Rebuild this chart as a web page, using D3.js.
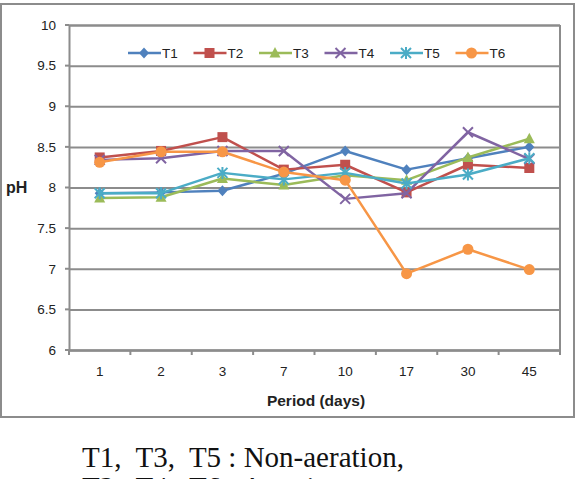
<!DOCTYPE html>
<html>
<head>
<meta charset="utf-8">
<script src="https://cdn.jsdelivr.net/npm/d3@7/dist/d3.min.js"></script>
<style>
  body { margin: 0; background: #fff; }
  svg text { font-family: "Liberation Sans", Arial, sans-serif; fill: #222; }
  .caption { font-family: "Liberation Serif", "Times New Roman", serif; fill: #111; }
</style>
</head>
<body>
<div id="chart"></div>
<script>
var days = ["1", "2", "3", "7", "10", "17", "30", "45"];
var yTicks = [6, 6.5, 7, 7.5, 8, 8.5, 9, 9.5, 10];
var names = ["T1", "T2", "T3", "T4", "T5", "T6"];
var colors = ["#4F81BD", "#C0504D", "#9BBB59", "#8064A2", "#4BACC6", "#F79646"];
var shapes = ["diamond", "square", "triangle", "x", "star", "circle"];

var t1 = [7.93, 7.94, 7.96, 8.17, 8.45, 8.22, 8.36, 8.50];
var t2 = [8.37, 8.45, 8.62, 8.22, 8.28, 7.94, 8.28, 8.24];
var t3 = [7.87, 7.88, 8.11, 8.03, 8.15, 8.09, 8.37, 8.60];
var t4 = [8.34, 8.36, 8.45, 8.45, 7.86, 7.93, 8.68, 8.35];
var t5 = [7.93, 7.93, 8.18, 8.10, 8.18, 8.05, 8.16, 8.36];
var t6 = [8.31, 8.44, 8.44, 8.19, 8.09, 6.94, 7.24, 6.99];
var series = [t1, t2, t3, t4, t5, t6];

var W = 583, H = 479;
var p = {"top": 25, "left": 69, "right": 560, "bot": 350};

var svg = d3.select("#chart").append("svg")
  .attr("width", W)
  .attr("height", H)

// outer chart frame
svg.append("rect")
  .attr("x", 1).attr("y", 4)
  .attr("width", 573).attr("height", 413)
  .attr("fill", "#fff")
  .attr("stroke", "#8c8c8c")
  .attr("stroke-width", 2)

var x = d3.scaleBand().domain(days).range([p.left, p.right]);
var y = d3.scaleLinear().domain([6, 10]).range([p.bot, p.top]);

// gridlines
svg.append("g")
  .attr("transform", "translate(" + p.left + ",0)")
  .call(d3.axisLeft(y).tickValues(yTicks).tickSize(-(p.right - p.left)).tickPadding(13).tickFormat(d3.format("")))
  .call(function(g){
    g.select(".domain").attr("stroke", "#8c8c8c").attr("stroke-width", 2);
    g.selectAll(".tick line").attr("stroke", "#8c8c8c").attr("stroke-width", 2);
    g.selectAll(".tick text").attr("font-size", 13.5).attr("fill", "#222");
  })

// small outer tick marks on y axis
svg.append("g").selectAll("line")
  .data(yTicks)
  .enter().append("line")
    .attr("x1", p.left - 4).attr("x2", p.left)
    .attr("y1", function(d){ return y(d) }).attr("y2", function(d){ return y(d) })
    .attr("stroke", "#8c8c8c").attr("stroke-width", 2)

// right border of plot area
svg.append("line")
  .attr("x1", p.right).attr("x2", p.right)
  .attr("y1", p.top).attr("y2", p.bot)
  .attr("stroke", "#8c8c8c").attr("stroke-width", 2)

// x axis
var xAxis = svg.append("g")
  .attr("transform", "translate(0," + p.bot + ")")
  .call(d3.axisBottom(x).tickSize(0).tickPadding(16))
xAxis.select(".domain").attr("stroke", "#8c8c8c").attr("stroke-width", 2);
xAxis.selectAll(".tick text").attr("font-size", 13.5).attr("fill", "#222");

var bounds = days.map(function(d){ return x(d) }).concat([p.right]);
svg.append("g").selectAll("line")
  .data(bounds)
  .enter().append("line")
    .attr("x1", function(d){ return d }).attr("x2", function(d){ return d })
    .attr("y1", p.bot).attr("y2", p.bot + 5)
    .attr("stroke", "#8c8c8c").attr("stroke-width", 2)

// axis titles
svg.append("text")
  .attr("x", 316).attr("y", 406)
  .attr("text-anchor", "middle")
  .attr("font-size", 15.5).attr("font-weight", "bold")
  .text("Period (days)")

svg.append("text")
  .attr("x", 6).attr("y", 193)
  .attr("font-size", 16).attr("font-weight", "bold")
  .text("pH")

function marker(g, shape, color){
  if (shape == "diamond") {
    g.append("path").attr("d", "M0,-5.5L5,0L0,5.5L-5,0Z").attr("fill", color);
  } else if (shape == "square") {
    g.append("rect").attr("x", -5).attr("y", -5).attr("width", 10).attr("height", 10).attr("fill", color);
  } else if (shape == "triangle") {
    g.append("path").attr("d", "M0,-6L5.5,4.5L-5.5,4.5Z").attr("fill", color);
  } else if (shape == "x") {
    g.append("path").attr("d", "M-5,-5L5,5M-5,5L5,-5").attr("stroke", color).attr("stroke-width", 2);
  } else if (shape == "star") {
    g.append("path").attr("d", "M-5,-5L5,5M-5,5L5,-5M0,-6L0,6").attr("stroke", color).attr("stroke-width", 2);
  } else {
    g.append("circle").attr("r", 5.5).attr("fill", color);
  }
}

var line = d3.line()
  .x(function(d, i){ return x(days[i]) + x.bandwidth() / 2 })
  .y(function(d){ return y(d) })

series.forEach(function(s, k){
  svg.append("path")
    .datum(s)
    .attr("d", line)
    .attr("fill", "none")
    .attr("stroke", colors[k])
    .attr("stroke-width", 2.5)
    .attr("stroke-linejoin", "round")

  s.forEach(function(v, i){
    var g = svg.append("g")
      .attr("transform", "translate(" + (x(days[i]) + x.bandwidth() / 2) + "," + y(v) + ")");
    marker(g, shapes[k], colors[k]);
  })
})

// legend
var leg = svg.append("g").attr("transform", "translate(128,53)");
names.forEach(function(n, k){
  var g = leg.append("g").attr("transform", "translate(" + (k * 65.5) + ",0)");
  g.append("line").attr("x1", 0).attr("x2", 33).attr("y1", 0).attr("y2", 0)
    .attr("stroke", colors[k]).attr("stroke-width", 2.5);
  marker(g.append("g").attr("transform", "translate(16,0)"), shapes[k], colors[k]);
  g.append("text").attr("x", 34).attr("y", 5).attr("font-size", 13.5).text(n);
})

// caption below the chart (second line is cut by the image edge, as in the source)
svg.append("text").attr("class", "caption")
  .attr("x", 82).attr("y", 467)
  .attr("font-size", 29)
  .attr("xml:space", "preserve")
  .text("T1,  T3,  T5 : Non-aeration,")
svg.append("text").attr("class", "caption")
  .attr("x", 82).attr("y", 497)
  .attr("font-size", 29)
  .attr("xml:space", "preserve")
  .text("T2,  T4,  T6 : Aeration")
</script>
</body>
</html>
